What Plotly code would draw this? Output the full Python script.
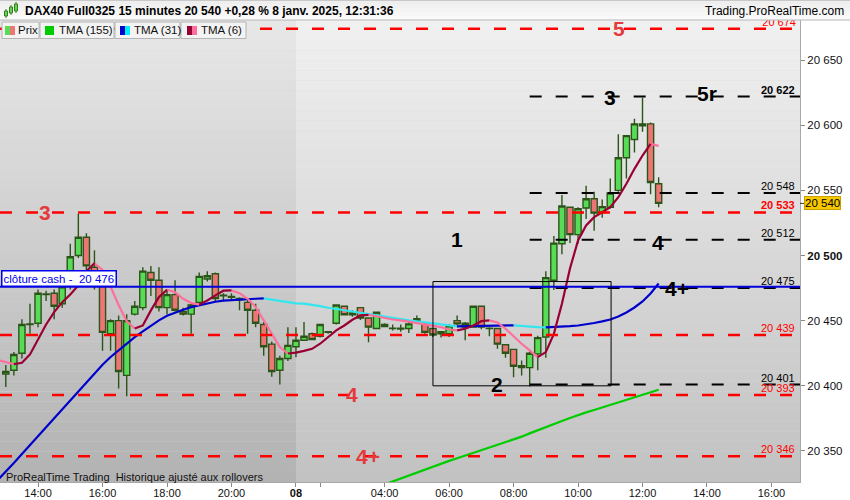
import plotly.graph_objects as go

# ---------------- data ----------------
day1_times = [f"{h:02d}:{m:02d}" for h in range(13, 22) for m in (0, 15, 30, 45)]
day2_times = ["01:15", "01:30", "01:45"] + [f"{h:02d}:{m:02d}" for h in range(2, 17) for m in (0, 15, 30, 45)]

bars_open = [20409, 20412, 20425, 20447, 20448, 20470, 20471, 20463, 20477, 20500,
             20514, 20491, 20478, 20440, 20450, 20408, 20455, 20460, 20487, 20481,
             20460, 20470, 20457, 20455, 20464, 20482, 20486, 20469, 20468, 20466,
             20464, 20458, 20447, 20432, 20412, 20421, 20430, 20435, 20440, 20438,
             20441, 20448, 20461, 20454.5, 20460, 20452, 20444, 20447, 20444.3, 20443.5,
             20444, 20450, 20447.5, 20444, 20441.5, 20440, 20450, 20445, 20445, 20461,
             20444.3, 20444, 20431.5, 20428, 20414, 20414, 20424.5, 20437.5, 20481, 20509,
             20537, 20516, 20536.5, 20543.5, 20533, 20537, 20550, 20575, 20589, 20599.5,
             20601, 20555]
bars_high = [20416, 20426, 20451, 20463, 20474, 20473, 20474, 20481, 20509, 20532,
             20517, 20504, 20481, 20451, 20454, 20455, 20465, 20491, 20492, 20491,
             20474, 20481, 20460, 20464, 20487, 20488, 20487, 20471, 20471, 20468,
             20467, 20463, 20449, 20434, 20423, 20445, 20445, 20449, 20441, 20447,
             20442, 20462, 20461.5, 20458, 20460.5, 20452.5, 20457, 20448, 20447, 20447,
             20449, 20454, 20449, 20444.5, 20442, 20447.5, 20454, 20449, 20461, 20461.5,
             20445, 20444.5, 20432, 20428.5, 20419.5, 20426.5, 20438.5, 20488, 20515, 20546.5,
             20537.5, 20537, 20553.5, 20549, 20543, 20559, 20593, 20592.5, 20605, 20621,
             20602, 20560]
bars_low = [20399, 20408, 20421, 20440, 20445, 20465, 20451, 20460, 20474, 20498,
            20487, 20474, 20427, 20427, 20398, 20392, 20454, 20458, 20469, 20457,
            20455, 20457, 20454, 20440, 20463, 20480, 20465, 20465, 20465, 20458,
            20440, 20445, 20423, 20407, 20401, 20419, 20422, 20435, 20435, 20437,
            20440, 20447, 20454, 20453, 20450.5, 20433.5, 20443.5, 20445, 20442.5, 20441.5,
            20440.5, 20447.5, 20440, 20437.5, 20437, 20437.5, 20445, 20435, 20444.5, 20443.5,
            20438, 20428.5, 20421.5, 20406.5, 20408, 20399.5, 20412, 20421.5, 20473.5, 20501,
            20509.5, 20509, 20528, 20519, 20529, 20536, 20549, 20559, 20579, 20595,
            20547, 20537]
bars_close = [20411, 20424, 20447, 20447.5, 20471, 20470.5, 20461, 20476, 20499, 20514,
              20492, 20478, 20441, 20450, 20411, 20450, 20461, 20488, 20481, 20460,
              20470, 20458, 20455, 20462, 20484, 20484.5, 20467, 20469.5, 20468.5, 20467,
              20458, 20448, 20430, 20411, 20421, 20431, 20435, 20438, 20435.5, 20447,
              20441.5, 20462, 20454.5, 20456, 20452, 20445, 20456.5, 20445.5, 20444, 20444.3,
              20447.5, 20451.5, 20441, 20439, 20440, 20446, 20447.5, 20448, 20461, 20445,
              20444, 20432, 20425, 20415, 20415.5, 20425, 20437, 20483, 20509.5, 20538,
              20516, 20536, 20543.5, 20532.5, 20537.5, 20548, 20575, 20592, 20601, 20601,
              20556, 20540]

# indicator values; first value belongs to the bar just before the first visible candle
tma6 = [20419.8,
        20418.2, 20416.7, 20417.7, 20424.1, 20436.1, 20447.1, 20456.6, 20464.2, 20470.1, 20477,
        20488, 20494, 20489, 20476, 20462, 20449.5, 20444, 20446.3, 20457.9, 20468.1,
        20473.7, 20471.9, 20466.8, 20463.5, 20462.3, 20465.5, 20469.4, 20473.0, 20473.2, 20471.1,
        20466.8, 20460.4, 20450.2, 20440, 20429.7, 20424.8, 20425.5, 20426.8, 20428.4, 20432.3,
        20437.4, 20442.5, 20446.3, 20450.7, 20454, 20454.5, 20453.2, 20451.9, 20450.9, 20450.2,
        20449.1, 20448.1, 20447.3, 20446.3, 20445, 20443.2, 20442.5, 20443.8, 20446.3, 20449.6,
        20450.2, 20448.6, 20443.8, 20437.9, 20432.3, 20427.2, 20422, 20425.9, 20439.9, 20463,
        20490, 20511.5, 20523, 20529.4, 20533.2, 20537.1, 20544.7, 20555, 20566.5, 20576.7,
        20585.6, 20584.1]
tma31 = [20327.7,
         20333.9, 20340.8, 20347.6, 20354.5, 20361.4, 20368.2, 20375.1, 20382, 20388.8, 20396,
         20402.9, 20409.8, 20416.2, 20422.1, 20427.4, 20432.8, 20437.4, 20441.8, 20446.1, 20450.2,
         20453.8, 20456.3, 20458.4, 20460.4, 20461.9, 20463.2, 20464.5, 20465.3, 20465.8, 20466,
         20466.5, 20466.8, 20467.1, 20466, 20465.3, 20464.3, 20463.2, 20463.0, 20462.2, 20461.1,
         20459.9, 20458.9, 20457.8, 20456.8, 20455.8, 20454.8, 20453.7, 20453, 20451.9, 20450.9,
         20450.2, 20449.4, 20448.6, 20447.9, 20447.1, 20446.3, 20445.6, 20445.7, 20445.8, 20446.0,
         20446.1, 20446.2, 20446.3, 20446.4, 20445.8, 20445.3, 20445.0, 20444.8, 20445.0, 20445.4,
         20445.8, 20446.3, 20447.1, 20448.2, 20449.4, 20450.9, 20453.2, 20456.3, 20460.1, 20464.7,
         20470.9, 20478.5]
tma155 = [None] * 47 + [20322.1, 20324.4, 20326.7, 20329.0, 20331.4, 20333.7, 20336.0, 20338.3, 20340.4, 20342.4,
                        20344.4, 20346.4, 20348.4, 20350.5, 20352.5, 20354.5, 20356.5, 20358.5, 20361.0, 20363.5,
                        20366.0, 20368.4, 20370.7, 20373.0, 20375.3, 20377.6, 20379.6, 20381.5, 20383.5, 20385.4,
                        20387.4, 20389.3, 20391.2, 20393.1, 20395.0, 20397.0]

red_levels = [20674, 20533, 20439, 20393, 20346]
red_level_text = ["20 674", "<b>20 533</b>", "20 439", "20 393", "20 346"]
black_levels = [20622, 20548, 20512, 20475, 20401]
black_level_text = ["<b>20 622</b>", "20 548", "20 512", "20 475", "20 401"]
cash_close = 20476
last_price = 20540
box_low, box_high = 20400, 20480

red_zone_labels = [("5", 20674, 76.1), ("3", 20533, 4.9), ("4", 20393, 43.0), ("4+", 20346, 44.9)]
black_zone_labels = [("3", 20621, 75.0), ("5r", 20624, 87.0), ("4", 20510, 80.9),
                     ("4+", 20475, 83.3), ("2", 20401, 60.9), ("1", 20512, 56.0)]

ytick_vals = [20350, 20400, 20450, 20500, 20550, 20600, 20650]
ytick_text = ["20 350", "20 400", "20 450", "<b>20 500</b>", "20 550", "20 600", "20 650"]

tick_spec = [("d1", "14:00", "14:00"), ("d1", "16:00", "16:00"), ("d1", "18:00", "18:00"),
             ("d1", "20:00", "20:00"), ("d2", "01:15", "<b>08</b>"), ("d2", "02:00", " "),
             ("d2", "04:00", "04:00"), ("d2", "06:00", "06:00"), ("d2", "08:00", "08:00"),
             ("d2", "10:00", "10:00"), ("d2", "12:00", "12:00"), ("d2", "14:00", "14:00"),
             ("d2", "16:00", "16:00")]

# ---------------- geometry ----------------
session = [("d1", t) for t in day1_times] + [("d2", t) for t in day2_times]
x_idx = list(range(len(bars_open)))
x_ind = list(range(-1, len(bars_open)))
tickvals = [session.index((d, t)) for d, t, _ in tick_spec]
ticktext = [lab for _, _, lab in tick_spec]
day2_start = session.index(("d2", "01:15"))

W, H = 850, 500
ML, MR, MT, MB = 0, 50, 20, 18
PW, PH = W - ML - MR, H - MT - MB
XR = [-0.72, 98.54]
YR = [20326.2, 20680.7]
black_start = 65

def px(xp):  # pixel -> paper x
    return (xp - ML) / PW

def py(yp):  # pixel -> paper y
    return (H - MB - yp) / PH

FONT = "Liberation Sans, Arial, sans-serif"
GREEN_FILL = "#58dc58"
RED_FILL = "#ec7676"
WICK = "#2c5418"

fig = go.Figure()

fig.add_trace(go.Candlestick(
    x=x_idx, open=bars_open, high=bars_high, low=bars_low, close=bars_close,
    increasing=dict(fillcolor=GREEN_FILL, line=dict(color=WICK, width=1.4)),
    decreasing=dict(fillcolor=RED_FILL, line=dict(color=WICK, width=1.4)),
    whiskerwidth=0, showlegend=False, hoverinfo="skip"))


def split_runs(xs, ys):
    pts = [(a, b) for a, b in zip(xs, ys) if b is not None]
    up = ([], [])
    dn = ([], [])
    run = [pts[0]]
    direction = None
    def flush(r, d):
        tgt = up if d else dn
        tgt[0].extend([p[0] for p in r] + [None])
        tgt[1].extend([p[1] for p in r] + [None])
    for p in pts[1:]:
        d = p[1] >= run[-1][1]
        if direction is None or d == direction:
            run.append(p)
            direction = d
        else:
            flush(run, direction)
            run = [run[-1], p]
            direction = d
    flush(run, direction)
    return up, dn


fig.add_trace(go.Scatter(x=x_ind, y=tma155, mode="lines", line=dict(color="#00cc00", width=2.2),
                         showlegend=False, hoverinfo="skip"))
for series, cu, cd in [(tma31, "#0000cc", "#33e6ee"), (tma6, "#990033", "#ff6f9c")]:
    up, dn = split_runs(x_ind, series)
    fig.add_trace(go.Scatter(x=dn[0], y=dn[1], mode="lines", line=dict(color=cd, width=2.2),
                             showlegend=False, hoverinfo="skip"))
    fig.add_trace(go.Scatter(x=up[0], y=up[1], mode="lines", line=dict(color=cu, width=2.2),
                             showlegend=False, hoverinfo="skip"))

shapes = []
# background gradient bands
NB = 46
for i in range(NB):
    f0 = i / NB
    f1 = (i + 1) / NB
    t = (i + 0.5) / NB  # 0 = bottom
    cr = int(round(193 + (241 - 193) * t))
    cl = int(round(178 + (232 - 178) * t))
    shapes.append(dict(type="rect", xref="x", yref="paper", x0=XR[0], x1=day2_start, y0=f0, y1=f1,
                       fillcolor=f"rgb({cl},{cl},{cl})", line=dict(width=0), layer="below"))
    shapes.append(dict(type="rect", xref="x", yref="paper", x0=day2_start, x1=XR[1], y0=f0, y1=f1,
                       fillcolor=f"rgb({cr},{cr},{cr})", line=dict(width=0), layer="below"))

# level lines
for lv in red_levels:
    shapes.append(dict(type="line", xref="x", yref="y", x0=XR[0], x1=XR[1] - 0.6, y0=lv, y1=lv,
                       line=dict(color="#ff0000", width=2.4, dash="12px,14px"), layer="above"))
for lv in black_levels:
    shapes.append(dict(type="line", xref="x", yref="y", x0=black_start, x1=XR[1], y0=lv, y1=lv,
                       line=dict(color="#000000", width=2, dash="12px,14px"), layer="above"))
shapes.append(dict(type="line", xref="x", yref="y", x0=XR[0], x1=XR[1], y0=cash_close, y1=cash_close,
                   line=dict(color="#0000dd", width=2), layer="above"))
shapes.append(dict(type="rect", xref="x", yref="y", x0=53, x1=75.1, y0=box_low, y1=box_high,
                   line=dict(color="#000000", width=1), layer="above"))
# last-price tick on axis
shapes.append(dict(type="line", xref="paper", yref="y", x0=1.0, x1=px(804), y0=last_price, y1=last_price,
                   line=dict(color="#333", width=1)))

# header
for i in range(5):
    c = int(round(250 - i * 3))
    shapes.append(dict(type="rect", xref="paper", yref="paper", x0=px(0), x1=px(W),
                       y0=py(20 - i * 4), y1=py(16 - i * 4), fillcolor=f"rgb({c},{c},{c})", line=dict(width=0)))
shapes.append(dict(type="line", xref="paper", yref="paper", x0=px(0), x1=px(W), y0=py(20), y1=py(20),
                   line=dict(color="#b8b8b8", width=1)))
shapes.append(dict(type="line", xref="paper", yref="paper", x0=px(0), x1=px(W), y0=py(0.5), y1=py(0.5),
                   line=dict(color="#c8c8c8", width=1)))
# header icon
for (cx, top, bot) in [(6, 10, 17), (11, 6, 14), (16, 3, 12)]:
    shapes.append(dict(type="line", xref="paper", yref="paper", x0=px(cx), x1=px(cx), y0=py(bot + 1), y1=py(top - 1),
                       line=dict(color="#3c7a1c", width=1)))
    shapes.append(dict(type="rect", xref="paper", yref="paper", x0=px(cx - 1.5), x1=px(cx + 1.5),
                       y0=py(bot - 1), y1=py(top + 1), fillcolor="#58dc58", line=dict(color="#3c7a1c", width=1)))

# legend boxes
legend_boxes = [(2, 39), (40, 114), (115, 180), (181, 246)]
for x0, x1 in legend_boxes:
    shapes.append(dict(type="rect", xref="paper", yref="paper", x0=px(x0), x1=px(x1), y0=py(38.5), y1=py(22),
                       fillcolor="#f3f3f3", line=dict(color="#b4b4b4", width=1), layer="above"))
swatches = [(5, 10, "#58dc58"), (10, 15, "#ec7676"), (45, 54, "#00cc00"), (120, 125, "#0000cc"),
            (125, 130, "#00eeff"), (187, 192, "#990033"), (192, 197, "#ff6f9c")]
for x0, x1, c in swatches:
    shapes.append(dict(type="rect", xref="paper", yref="paper", x0=px(x0), x1=px(x1), y0=py(35), y1=py(26),
                       fillcolor=c, line=dict(width=0), layer="above"))

annotations = []
annotations.append(dict(xref="paper", yref="paper", x=px(23), y=py(11), xanchor="left", yanchor="middle",
                        text="<b>DAX40 Full0325 15 minutes 20 540 +0,28 % 8 janv. 2025, 12:31:36</b>",
                        showarrow=False, font=dict(family=FONT, size=12, color="#000")))
annotations.append(dict(xref="paper", yref="paper", x=px(846), y=py(11), xanchor="right", yanchor="middle",
                        text="Trading.ProRealTime.com", showarrow=False,
                        font=dict(family=FONT, size=12, color="#000")))
for xt, lab in [(15.5, "Prix"), (57, "TMA (155)"), (132, "TMA (31)"), (199, "TMA (6)")]:
    annotations.append(dict(xref="paper", yref="paper", x=px(xt), y=py(30.5), xanchor="left", yanchor="middle",
                            text=lab, showarrow=False, font=dict(family=FONT, size=11.5, color="#111")))

for lab, lv, xk in red_zone_labels:
    annotations.append(dict(xref="x", yref="y", x=xk, y=lv, text=f"<b>{lab}</b>", showarrow=False,
                            xanchor="center", yanchor="middle", font=dict(family=FONT, size=21, color="#e5393b")))
for lab, lv, xk in black_zone_labels:
    annotations.append(dict(xref="x", yref="y", x=xk, y=lv, text=f"<b>{lab}</b>", showarrow=False,
                            xanchor="center", yanchor="middle", font=dict(family=FONT, size=21, color="#000")))

for lv, tx in list(zip(red_levels, red_level_text))[1:]:
    annotations.append(dict(xref="paper", yref="y", x=px(796), y=lv, text=tx, showarrow=False,
                            xanchor="right", yanchor="bottom", yshift=0, borderpad=0,
                            font=dict(family=FONT, size=11, color="#ff0000")))
for lv, tx in zip(black_levels, black_level_text):
    annotations.append(dict(xref="paper", yref="y", x=px(796), y=lv, text=tx, showarrow=False,
                            xanchor="right", yanchor="bottom", yshift=0, borderpad=0,
                            font=dict(family=FONT, size=11, color="#000")))

annotations.append(dict(xref="paper", yref="y", x=px(1), y=cash_close, text="clôture cash -\u00a0\u00a020 476",
                        showarrow=False, xanchor="left", yanchor="bottom", yshift=0,
                        bgcolor="#ffffff", bordercolor="#0000ee", borderwidth=1.5, borderpad=1,
                        font=dict(family=FONT, size=11.5, color="#0000ee")))
annotations.append(dict(xref="paper", yref="y", x=px(804), y=last_price, text="20 540", showarrow=False,
                        xanchor="left", yanchor="middle", bgcolor="#f6c800", bordercolor="#c9a000",
                        borderwidth=1, borderpad=0, font=dict(family=FONT, size=11.5, color="#000")))
annotations.append(dict(xref="paper", yref="paper", x=px(4), y=py(477), xanchor="left", yanchor="middle",
                        text="ProRealTime Trading\u00a0\u00a0Historique ajusté aux rollovers", showarrow=False,
                        font=dict(family=FONT, size=11, color="#111")))

# clipped top level label
fig.add_trace(go.Scatter(x=[XR[1] - 0.5], y=[red_levels[0]], mode="text", text=[red_level_text[0]],
                         textposition="top left", textfont=dict(family=FONT, size=11, color="#ff0000"),
                         cliponaxis=True, showlegend=False, hoverinfo="skip"))

fig.update_layout(
    width=W, height=H, autosize=False,
    margin=dict(l=ML, r=MR, t=MT, b=MB, pad=0),
    paper_bgcolor="#ffffff", plot_bgcolor="#d8d8d8",
    boxgap=0.1, boxgroupgap=0.15,
    shapes=shapes, annotations=annotations, showlegend=False,
    xaxis=dict(range=XR, rangeslider=dict(visible=False), showgrid=False, zeroline=False, automargin=False,
               tickmode="array", tickvals=tickvals, ticktext=ticktext, ticks="outside", ticklen=4,
               ticklabelstandoff=-3,
               tickcolor="#888", showline=True, linecolor="#a8a8a8", linewidth=1,
               tickfont=dict(family=FONT, size=11, color="#111"), fixedrange=True),
    yaxis=dict(range=YR, side="right", showgrid=False, zeroline=False, tickmode="array", automargin=False,
               tickvals=ytick_vals, ticktext=ytick_text, ticks="outside", ticklen=4, tickcolor="#888",
               showline=True, linecolor="#a8a8a8", linewidth=1,
               tickfont=dict(family=FONT, size=11.5, color="#111"), fixedrange=True),
)

fig.write_html("out.html", config={"displayModeBar": False},
               post_script="document.body.style.margin='0';document.body.style.overflow='hidden';")
